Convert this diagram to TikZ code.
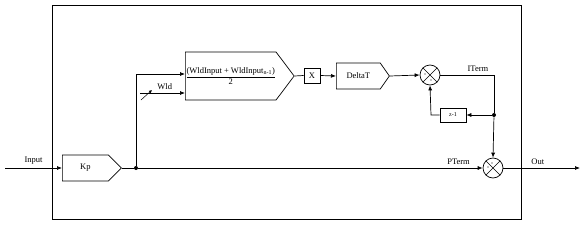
\documentclass[tikz,border=0pt]{standalone}
\usepackage{fontspec}
\setmainfont{Liberation Serif}
\usetikzlibrary{arrows.meta,shapes.symbols}

\begin{document}
\begin{tikzpicture}[x=1pt,y=-1pt,>={Latex[length=5pt,width=4pt]},line width=0.7pt,
  font=\fontsize{8.5}{9.5}\selectfont,
  blk/.style={draw,shape=signal,signal to=east,inner sep=0pt,anchor=west},
  sumnode/.style={draw,circle,minimum size=20pt,inner sep=0pt,path picture={
      \draw[line width=0.5pt] (path picture bounding box.north west)--(path picture bounding box.south east)
        (path picture bounding box.north east)--(path picture bounding box.south west);}},
  jdot/.style={circle,fill,inner sep=0pt,minimum size=4pt}]
  \useasboundingbox (0,0) rectangle (586,225);
  \draw (52,5) rectangle (521,219);
  % proportional path
  \coordinate (in) at (5,168);
  \node[blk,minimum width=59pt,minimum height=26pt] (kp) at (62,168) {Kp};
  \node[jdot] (j1) at (136,168) {};
  \coordinate (up) at (136,74);
  % average of the input
  \node[blk,minimum width=107pt,minimum height=48pt,signal pointer angle=106] (avg) at (185,76)
    {$\displaystyle\frac{\mbox{(WldInput + WldInput\textsubscript{n-1})}}{\mbox{2}}$};
  \coordinate (wld) at (140,93);
  \node[draw,minimum width=16pt,minimum height=15pt,inner sep=0pt] (mul) at (312,75.5) {X};
  \node[blk,minimum width=53pt,minimum height=26pt,signal pointer angle=110] (dt) at (336,76) {DeltaT};
  \node[sumnode] (sum) at (430,75) {};
  \coordinate (iturn) at (494,75);
  \node[jdot] (j2) at (494,115) {};
  \node[draw,minimum width=26pt,minimum height=14pt,inner sep=0pt,font=\fontsize{6}{7}\selectfont] (del) at (453,115) {z-1};
  \coordinate (fb) at (431,115);
  \node[sumnode] (out) at (493,168) {};
  \coordinate (end) at (580,168);
  % connections
  \draw[->] (in) -- node[above]{Input} (kp.west);
  \draw (kp.east) -- (j1);
  \draw[->] (j1) -- (up) -- (avg.west |- up);
  \draw[->] (wld) -- node[above,pos=0.55]{Wld} (avg.west |- wld);
  \draw[->,line width=0.5pt,>={Latex[length=3pt,width=3pt]}] (141,100) -- (152,90);
  \draw (avg.east) -- (mul.west);
  \draw[->] (mul.east) -- (dt.west);
  \draw[->] (dt.east) -- (sum.west);
  \draw (sum.east) -- node[above,pos=0.7]{ITerm} (iturn) -- (j2);
  \draw[->] (j2) -- (out.north);
  \draw[->] (j2) -- (del.east);
  \draw[->] (del.west) -- (fb) -- (sum.south);
  \draw[->] (j1) -- node[above,pos=0.93]{PTerm} (out.west);
  \draw[->] (out.east) -- node[above,pos=0.45]{Out} (end);
  % sign marks
  \foreach \n in {sum,out} \fill (\n.center) ++(-5,-1) circle (0.6pt);
  \fill (sum.center) ++(1,5) circle (0.6pt);
  \fill (out.center) ++(-1,-5) circle (0.6pt);
\end{tikzpicture}
\end{document}
